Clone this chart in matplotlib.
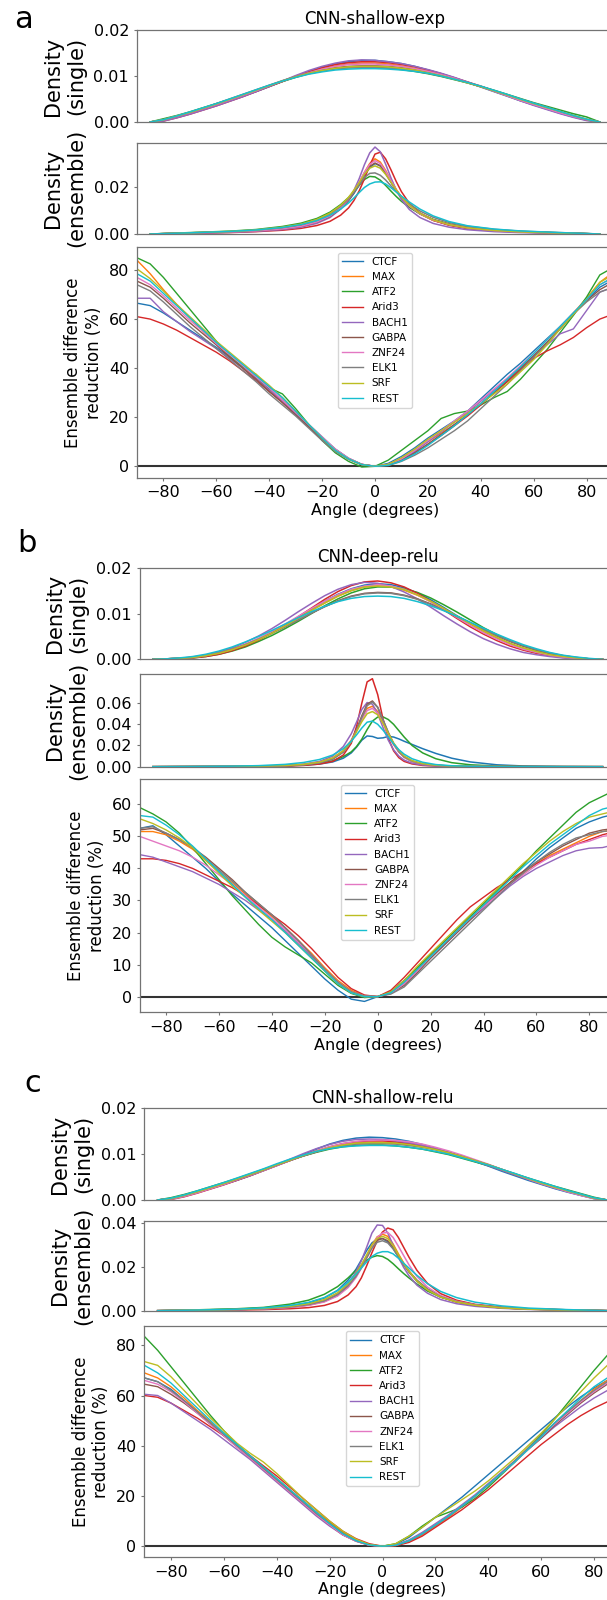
import matplotlib
matplotlib.use("Agg")
import matplotlib.pyplot as plt
from matplotlib.ticker import FormatStrFormatter

# ---------------- data ----------------
TFS = ["CTCF", "MAX", "ATF2", "Arid3", "BACH1", "GABPA", "ZNF24", "ELK1", "SRF", "REST"]

ANGLES_RED = list(range(-90, 91, 5))          # 37 points
ANGLES_SINGLE = list(range(-85, 86, 5))       # 35 points
ANGLES_ENS = [-85, -70, -55, -45, -35, -28, -22, -17, -13, -10, -8, -6, -4, -2, 0,
              2, 4, 6, 8, 10, 13, 17, 22, 28, 35, 45, 55, 70, 85]  # 29 points

# ---- a: CNN-shallow-exp ----
shallow_exp_single = {
    "CTCF":  [0, .0003, .0011, .0019, .0028, .0037, .0046, .0056, .0066, .0077, .0088, .0099, .0110, .0119, .0126, .0131, .0134, .0134, .0131, .0127, .0121, .0113, .0105, .0096, .0086, .0076, .0066, .0056, .0046, .0037, .0028, .0019, .0011, .0004, 0],
    "MAX":   [0, .0004, .0012, .0020, .0029, .0038, .0048, .0058, .0068, .0079, .0089, .0099, .0108, .0116, .0122, .0126, .0128, .0128, .0126, .0122, .0117, .0111, .0104, .0095, .0086, .0077, .0067, .0057, .0047, .0038, .0029, .0020, .0012, .0005, 0],
    "ATF2":  [0, .0007, .0014, .0022, .0031, .0040, .0049, .0058, .0068, .0078, .0088, .0097, .0105, .0111, .0116, .0118, .0119, .0119, .0117, .0114, .0110, .0105, .0099, .0092, .0085, .0077, .0069, .0060, .0051, .0042, .0034, .0026, .0018, .0011, 0],
    "Arid3": [0, .0002, .0009, .0017, .0026, .0035, .0045, .0055, .0066, .0077, .0088, .0099, .0109, .0118, .0125, .0129, .0131, .0131, .0129, .0125, .0120, .0113, .0105, .0096, .0087, .0078, .0068, .0058, .0048, .0039, .0030, .0021, .0013, .0005, 0],
    "BACH1": [0, .0002, .0009, .0017, .0026, .0035, .0045, .0055, .0066, .0077, .0089, .0101, .0112, .0121, .0128, .0133, .0135, .0134, .0131, .0127, .0121, .0114, .0106, .0097, .0087, .0077, .0067, .0057, .0046, .0036, .0027, .0018, .0010, .0003, 0],
    "GABPA": [0, .0004, .0012, .0021, .0030, .0039, .0049, .0059, .0069, .0079, .0089, .0098, .0106, .0113, .0118, .0121, .0122, .0122, .0121, .0118, .0114, .0108, .0101, .0094, .0086, .0077, .0068, .0059, .0049, .0040, .0031, .0022, .0013, .0005, 0],
    "ZNF24": [0, .0004, .0012, .0020, .0029, .0038, .0048, .0058, .0068, .0079, .0089, .0099, .0107, .0115, .0121, .0125, .0126, .0126, .0124, .0121, .0116, .0110, .0103, .0095, .0086, .0077, .0067, .0057, .0047, .0038, .0029, .0020, .0012, .0005, 0],
    "ELK1":  [0, .0005, .0013, .0021, .0030, .0040, .0050, .0060, .0070, .0080, .0090, .0099, .0106, .0112, .0116, .0118, .0118, .0118, .0117, .0115, .0111, .0106, .0100, .0093, .0085, .0077, .0068, .0059, .0050, .0041, .0032, .0023, .0014, .0006, 0],
    "SRF":   [0, .0005, .0013, .0021, .0030, .0039, .0049, .0059, .0069, .0079, .0089, .0098, .0106, .0112, .0117, .0120, .0121, .0121, .0120, .0117, .0113, .0107, .0101, .0093, .0085, .0077, .0068, .0059, .0049, .0040, .0031, .0023, .0014, .0006, 0],
    "REST":  [0, .0005, .0013, .0022, .0031, .0040, .0050, .0060, .0070, .0080, .0089, .0097, .0104, .0109, .0113, .0115, .0116, .0116, .0115, .0113, .0110, .0106, .0100, .0093, .0086, .0078, .0069, .0060, .0050, .0041, .0032, .0023, .0014, .0006, 0],
}
shallow_exp_ens = {
    "CTCF":  [0, .0004, .0009, .0014, .0024, .0035, .0052, .0076, .0108, .0142, .0172, .0208, .0249, .0283, .0300, .0290, .0260, .0222, .0186, .0155, .0118, .0086, .0059, .0040, .0026, .0015, .0009, .0004, 0],
    "MAX":   [0, .0004, .0009, .0014, .0024, .0035, .0053, .0078, .0111, .0147, .0180, .0218, .0262, .0300, .0320, .0306, .0271, .0229, .0190, .0157, .0118, .0085, .0058, .0039, .0025, .0015, .0009, .0004, 0],
    "ATF2":  [0, .0006, .0012, .0019, .0032, .0046, .0066, .0093, .0125, .0155, .0180, .0207, .0232, .0245, .0243, .0229, .0207, .0183, .0160, .0139, .0113, .0086, .0062, .0043, .0029, .0018, .0011, .0005, 0],
    "Arid3": [0, .0003, .0006, .0010, .0016, .0024, .0036, .0054, .0080, .0111, .0142, .0183, .0235, .0292, .0340, .0348, .0320, .0274, .0224, .0180, .0130, .0089, .0058, .0037, .0023, .0013, .0008, .0003, 0],
    "BACH1": [0, .0003, .0007, .0011, .0019, .0029, .0045, .0070, .0106, .0146, .0185, .0235, .0295, .0345, .0370, .0350, .0298, .0240, .0188, .0147, .0104, .0070, .0045, .0029, .0018, .0010, .0006, .0003, 0],
    "GABPA": [0, .0004, .0008, .0013, .0022, .0033, .0050, .0075, .0108, .0144, .0176, .0213, .0255, .0288, .0302, .0290, .0259, .0221, .0186, .0156, .0120, .0088, .0061, .0041, .0027, .0016, .0010, .0004, 0],
    "ZNF24": [0, .0004, .0008, .0013, .0022, .0033, .0051, .0077, .0111, .0148, .0181, .0219, .0262, .0296, .0312, .0300, .0267, .0227, .0189, .0157, .0119, .0086, .0059, .0040, .0026, .0015, .0009, .0004, 0],
    "ELK1":  [0, .0005, .0010, .0016, .0027, .0040, .0059, .0085, .0118, .0150, .0178, .0208, .0240, .0258, .0260, .0250, .0230, .0205, .0180, .0157, .0128, .0098, .0071, .0049, .0033, .0020, .0012, .0006, 0],
    "SRF":   [0, .0005, .0011, .0017, .0029, .0042, .0062, .0089, .0122, .0156, .0186, .0218, .0254, .0280, .0290, .0280, .0254, .0221, .0188, .0158, .0122, .0088, .0060, .0040, .0026, .0015, .0009, .0004, 0],
    "REST":  [0, .0005, .0011, .0017, .0028, .0040, .0057, .0080, .0106, .0132, .0153, .0176, .0198, .0213, .0221, .0222, .0213, .0197, .0179, .0161, .0136, .0106, .0077, .0053, .0035, .0021, .0013, .0006, 0],
}
shallow_exp_red = {
    "CTCF":  [66.5, 65.5, 62.5, 59, 55.5, 52, 48.5, 44.5, 40.5, 36, 31.5, 27, 22, 17, 12, 7, 3.3, 0.8, 0, 1.2, 4, 7.5, 11.5, 15, 18.5, 22.5, 27.5, 32.5, 37.5, 42, 47, 52, 57, 62.5, 67.5, 73, 76],
    "MAX":   [84, 78.5, 72, 66, 60.5, 55, 50, 45, 40.5, 35.5, 31, 26.5, 21.5, 16, 11, 6.5, 3, 0.7, 0, 0.7, 3, 6.5, 10, 13.5, 17, 21, 25.5, 30, 34.5, 39.5, 45, 50.5, 56.5, 62.5, 68.5, 75, 79],
    "ATF2":  [85, 82.5, 77, 70.5, 64, 57.5, 51, 45, 40.5, 37.5, 32, 29.5, 23.5, 17, 10.5, 5.5, 2, -0.3, 0, 2.5, 6.5, 10.5, 14.5, 19.5, 21.5, 22.5, 25, 28, 30.5, 35.5, 41.5, 47.5, 54.5, 61.5, 69, 78, 81],
    "Arid3": [61, 60, 58, 55.5, 52.5, 49.5, 46.5, 43, 39, 35, 30.5, 26, 21, 16, 11, 6.5, 3, 0.8, 0, 0.5, 2.5, 5.5, 9, 12.5, 16.5, 20.5, 25, 30, 34.5, 39.5, 44, 47, 49.5, 52.5, 56.5, 60, 62],
    "BACH1": [68.5, 68.5, 63, 59, 55, 51.5, 48, 44, 40, 35.5, 31, 26.5, 21.5, 16.5, 11.5, 7, 3.2, 0.8, 0, 0.6, 3, 6, 10, 14, 18, 22, 26.5, 31, 35.5, 40.5, 45, 49.5, 54, 56, 63.5, 71, 73],
    "GABPA": [75.5, 73, 68.5, 63.5, 58.5, 54, 49.5, 44.5, 40, 35.5, 30.5, 26, 21, 16, 11, 6.5, 3, 0.7, 0, 0.5, 2.5, 5.5, 9, 13, 17, 21, 25.5, 30, 35, 40, 45, 50.5, 56, 62, 67.5, 72, 75],
    "ZNF24": [77, 74, 69.5, 64.5, 59.5, 55, 50, 45.5, 41, 36.5, 32, 27, 22, 17, 12, 7, 3.3, 0.8, 0, 0.8, 3, 6.5, 10.5, 14.5, 18.5, 22.5, 27, 31.5, 36, 41, 46, 51.5, 57, 62.5, 68, 74, 77],
    "ELK1":  [74, 71.5, 67, 62, 57, 52.5, 48, 43.5, 39, 34.5, 29.5, 25, 20.5, 15.5, 10.5, 6, 2.8, 0.6, 0, 0.3, 2, 4.5, 7.5, 11, 14.5, 18.5, 23.5, 28.5, 33.5, 39, 44.5, 50, 56, 62, 67, 71, 73],
    "SRF":   [80.5, 76.5, 71.5, 66, 61, 56, 51, 46.5, 42, 37.5, 33, 28, 22.5, 17, 11.5, 6.5, 3, 0.7, 0, 0.8, 3.5, 7, 11, 14.5, 18, 21.5, 25.5, 29.5, 33.5, 38.5, 43.5, 49.5, 56, 62, 68, 75, 78],
    "REST":  [78.5, 75.5, 70.5, 65.5, 60.5, 55.5, 50.5, 46, 41.5, 37, 32.5, 28, 22.5, 17, 11.5, 6.5, 3, 0.7, 0, 0.4, 2.2, 5, 8.5, 12.5, 16.5, 21, 25.5, 30.5, 35.5, 40.5, 46, 51.5, 57, 62.5, 68, 74, 77],
}

# ---- b: CNN-deep-relu ----
deep_relu_single = {
    "CTCF":  [0, .0001, .0002, .0004, .0008, .0014, .0022, .0032, .0045, .0059, .0075, .0092, .0110, .0127, .0142, .0154, .0162, .0165, .0163, .0156, .0145, .0130, .0113, .0095, .0078, .0062, .0047, .0034, .0024, .0016, .0010, .0005, .0002, .0001, 0],
    "MAX":   [0, .0001, .0002, .0004, .0008, .0014, .0022, .0032, .0044, .0058, .0074, .0090, .0107, .0123, .0138, .0150, .0158, .0160, .0158, .0151, .0140, .0126, .0110, .0093, .0077, .0061, .0047, .0034, .0024, .0016, .0010, .0005, .0002, .0001, 0],
    "ATF2":  [0, .0001, .0002, .0003, .0006, .0011, .0018, .0027, .0039, .0052, .0067, .0083, .0100, .0117, .0132, .0145, .0154, .0158, .0158, .0154, .0146, .0134, .0119, .0103, .0086, .0069, .0054, .0040, .0029, .0020, .0013, .0007, .0003, .0001, 0],
    "Arid3": [0, .0001, .0001, .0003, .0006, .0011, .0019, .0029, .0042, .0057, .0074, .0093, .0112, .0131, .0148, .0161, .0169, .0171, .0167, .0158, .0144, .0127, .0108, .0089, .0071, .0055, .0041, .0029, .0020, .0013, .0008, .0004, .0002, .0001, 0],
    "BACH1": [0, .0001, .0002, .0005, .0009, .0016, .0025, .0037, .0051, .0067, .0085, .0104, .0122, .0139, .0153, .0163, .0168, .0166, .0159, .0147, .0132, .0114, .0095, .0077, .0060, .0045, .0033, .0023, .0015, .0010, .0006, .0003, .0001, 0, 0],
    "GABPA": [0, .0001, .0002, .0004, .0008, .0014, .0022, .0032, .0044, .0057, .0071, .0086, .0101, .0115, .0128, .0138, .0144, .0146, .0145, .0140, .0132, .0121, .0108, .0094, .0079, .0065, .0051, .0039, .0029, .0020, .0013, .0008, .0004, .0001, 0],
    "ZNF24": [0, .0001, .0002, .0004, .0008, .0014, .0022, .0033, .0046, .0061, .0077, .0094, .0111, .0127, .0141, .0153, .0160, .0163, .0160, .0153, .0141, .0126, .0109, .0091, .0074, .0058, .0044, .0032, .0022, .0015, .0009, .0005, .0002, .0001, 0],
    "ELK1":  [0, .0001, .0002, .0004, .0008, .0014, .0022, .0032, .0044, .0057, .0071, .0086, .0101, .0115, .0127, .0137, .0143, .0145, .0144, .0139, .0131, .0120, .0107, .0093, .0079, .0065, .0052, .0040, .0030, .0021, .0014, .0008, .0004, .0001, 0],
    "SRF":   [0, .0001, .0002, .0004, .0008, .0013, .0021, .0031, .0043, .0057, .0073, .0090, .0107, .0123, .0138, .0150, .0158, .0160, .0158, .0152, .0141, .0127, .0111, .0094, .0078, .0062, .0048, .0035, .0025, .0017, .0010, .0006, .0003, .0001, 0],
    "REST":  [0, .0001, .0003, .0006, .0011, .0018, .0027, .0038, .0050, .0063, .0077, .0091, .0104, .0116, .0126, .0133, .0137, .0138, .0137, .0133, .0126, .0117, .0106, .0094, .0081, .0068, .0055, .0043, .0032, .0023, .0015, .0009, .0005, .0002, 0],
}
deep_relu_ens = {
    "CTCF":  [0, .0001, .0002, .0004, .0008, .0014, .0025, .0045, .0080, .0130, .0185, .0250, .0290, .0285, .0268, .0272, .0285, .0280, .0262, .0240, .0210, .0170, .0125, .0080, .0045, .0018, .0007, .0002, 0],
    "MAX":   [0, .0001, .0002, .0004, .0010, .0020, .0040, .0080, .0150, .0250, .0350, .0460, .0550, .0570, .0520, .0420, .0310, .0210, .0140, .0090, .0050, .0025, .0012, .0006, .0003, .0001, 0, 0, 0],
    "ATF2":  [0, .0001, .0002, .0004, .0009, .0017, .0030, .0055, .0095, .0140, .0190, .0260, .0350, .0430, .0468, .0470, .0445, .0400, .0340, .0280, .0200, .0130, .0075, .0038, .0018, .0006, .0002, .0001, 0],
    "Arid3": [0, .0001, .0002, .0003, .0006, .0012, .0025, .0050, .0110, .0220, .0380, .0600, .0800, .0830, .0680, .0450, .0270, .0150, .0085, .0050, .0026, .0012, .0006, .0003, .0001, 0, 0, 0, 0],
    "BACH1": [0, .0001, .0002, .0005, .0012, .0025, .0050, .0100, .0190, .0310, .0420, .0540, .0605, .0590, .0500, .0370, .0250, .0160, .0100, .0062, .0033, .0016, .0007, .0003, .0001, 0, 0, 0, 0],
    "GABPA": [0, .0001, .0002, .0004, .0009, .0018, .0036, .0072, .0140, .0240, .0350, .0480, .0590, .0620, .0560, .0440, .0320, .0215, .0140, .0090, .0050, .0025, .0012, .0006, .0003, .0001, 0, 0, 0],
    "ZNF24": [0, .0001, .0002, .0004, .0010, .0020, .0040, .0080, .0150, .0245, .0340, .0445, .0530, .0550, .0505, .0410, .0305, .0210, .0140, .0090, .0050, .0025, .0012, .0006, .0003, .0001, 0, 0, 0],
    "ELK1":  [0, .0001, .0002, .0004, .0009, .0018, .0036, .0072, .0138, .0235, .0340, .0465, .0575, .0610, .0560, .0445, .0325, .0220, .0145, .0094, .0053, .0027, .0013, .0006, .0003, .0001, 0, 0, 0],
    "SRF":   [0, .0001, .0002, .0005, .0011, .0022, .0043, .0083, .0150, .0240, .0330, .0425, .0500, .0520, .0490, .0410, .0315, .0225, .0155, .0102, .0058, .0029, .0014, .0007, .0003, .0001, 0, 0, 0],
    "REST":  [0, .0002, .0005, .0010, .0022, .0040, .0068, .0110, .0170, .0240, .0300, .0365, .0420, .0430, .0400, .0345, .0280, .0215, .0160, .0118, .0075, .0042, .0020, .0009, .0004, .0001, 0, 0, 0],
}
deep_relu_red = {
    "CTCF":  [52.5, 53.3, 50.5, 47, 43.5, 40, 36, 32, 28.5, 25, 21.5, 17.5, 13.5, 9.5, 5.5, 2, -0.8, -1.5, 0, 1.5, 5, 9, 13, 17, 21, 25, 28.5, 32, 35.5, 39, 43, 46.5, 49.5, 52.5, 54.5, 56, 57],
    "MAX":   [51.5, 51.5, 50.5, 48.5, 46, 42.5, 39, 35.5, 32, 28.5, 25, 21.5, 17.5, 13.5, 9, 5, 2, 0.2, 0, 1.2, 4.5, 8.5, 13, 17, 21, 25, 28.5, 32, 35.5, 38.5, 41.5, 44, 46, 48, 50, 51.5, 52],
    "ATF2":  [59, 57, 54.5, 51, 46.5, 41.5, 36.5, 31.5, 27, 22.5, 18.5, 15.5, 13, 10.5, 7, 3.5, 1, -0.3, 0, 1.5, 5, 9, 13, 17, 21, 25, 29, 33, 37, 41, 45.5, 49.5, 53.5, 57.5, 60.5, 62.5, 64.5],
    "Arid3": [43, 43, 42.5, 41.5, 40, 38, 36, 34, 31.5, 28.5, 25.5, 22.5, 19, 15, 10.5, 6, 2.5, 0.5, 0, 2, 6, 10.5, 15, 19.5, 24, 28, 31, 34, 36.5, 39, 41.5, 43.5, 45.5, 47.5, 49, 50.5, 51.5],
    "BACH1": [44.3, 43.5, 42, 40.5, 39, 37, 35, 32.5, 30, 27, 24, 20.5, 16.5, 12.5, 8, 4, 1.2, 0, 0, 1, 4, 8, 12, 16, 20, 24, 27.5, 31, 34.5, 37.5, 40, 42, 44, 45.5, 46.3, 46.5, 47.5],
    "GABPA": [52, 52.5, 51, 49, 46.5, 43.5, 40, 36.5, 32.5, 29, 25.5, 21.5, 17.5, 13, 8.5, 4.5, 1.5, 0.2, 0, 1, 3.5, 7.5, 12, 16, 20, 24, 28, 32, 35.5, 39, 42, 44.5, 47, 49, 51, 52, 52.5],
    "ZNF24": [50, 48.5, 47, 45.5, 43.5, 41, 38, 35, 31.5, 28, 24.5, 21, 17, 13, 8.5, 4.5, 1.5, 0.2, 0, 1, 4, 8, 12.5, 16.5, 20.5, 24.5, 28, 31.5, 35, 38, 41, 43.5, 45.5, 47.5, 48.5, 50, 50.5],
    "ELK1":  [52.5, 53, 51, 49, 46.5, 43, 39.5, 36, 32.5, 29, 25.5, 21.5, 17.5, 13, 8.5, 4.5, 1.5, 0.2, 0, 0.8, 3, 7, 11, 15, 19, 23, 27, 31, 35, 38.5, 42, 45, 47.5, 49.5, 50.5, 51.5, 52],
    "SRF":   [55.5, 54, 52, 49.5, 46.5, 42.5, 38.5, 34.5, 31, 27, 23.5, 20, 16, 12, 8, 4, 1.2, 0, 0, 1.5, 5, 9.5, 13.5, 17.5, 21.5, 25.5, 29.5, 33.5, 37.5, 41.5, 45, 48.5, 51.5, 54, 56, 57, 58],
    "REST":  [56.5, 56, 53.5, 50.5, 47, 43, 39, 35, 31, 27.5, 24, 20, 16, 12, 8, 4, 1.2, 0, 0, 1.2, 4.5, 8.5, 12.5, 16.5, 20.5, 24.5, 28.5, 32.5, 36.5, 40.5, 44, 47.5, 50.5, 53.5, 56.5, 58.5, 59.5],
}

# ---- c: CNN-shallow-relu ----
shallow_relu_single = {
    "CTCF":  [0, .0003, .0009, .0017, .0025, .0034, .0043, .0053, .0064, .0075, .0087, .0099, .0111, .0122, .0130, .0135, .0137, .0136, .0133, .0128, .0121, .0113, .0104, .0094, .0084, .0074, .0063, .0053, .0043, .0034, .0025, .0017, .0010, .0003, 0],
    "MAX":   [0, .0003, .0010, .0018, .0027, .0036, .0045, .0055, .0065, .0076, .0087, .0097, .0106, .0114, .0120, .0124, .0126, .0126, .0125, .0122, .0117, .0111, .0104, .0095, .0086, .0076, .0066, .0056, .0046, .0036, .0027, .0019, .0011, .0004, 0],
    "ATF2":  [0, .0005, .0012, .0020, .0029, .0038, .0047, .0057, .0067, .0077, .0087, .0096, .0104, .0111, .0116, .0119, .0120, .0120, .0118, .0115, .0111, .0105, .0099, .0091, .0083, .0075, .0066, .0057, .0048, .0039, .0030, .0022, .0014, .0006, 0],
    "Arid3": [0, .0001, .0007, .0015, .0024, .0033, .0043, .0053, .0064, .0075, .0086, .0097, .0107, .0116, .0123, .0127, .0129, .0129, .0127, .0123, .0118, .0111, .0103, .0095, .0086, .0076, .0066, .0056, .0046, .0037, .0028, .0020, .0012, .0004, 0],
    "BACH1": [0, .0002, .0008, .0016, .0025, .0034, .0044, .0054, .0065, .0077, .0089, .0101, .0112, .0121, .0128, .0132, .0133, .0132, .0129, .0125, .0119, .0112, .0104, .0095, .0085, .0075, .0065, .0055, .0045, .0035, .0026, .0018, .0010, .0003, 0],
    "GABPA": [0, .0003, .0010, .0018, .0027, .0036, .0045, .0055, .0065, .0076, .0086, .0096, .0105, .0113, .0119, .0123, .0124, .0124, .0123, .0120, .0116, .0110, .0103, .0095, .0086, .0077, .0067, .0057, .0047, .0037, .0028, .0020, .0012, .0004, 0],
    "ZNF24": [0, .0002, .0008, .0016, .0025, .0034, .0044, .0054, .0064, .0075, .0086, .0097, .0107, .0116, .0123, .0128, .0130, .0131, .0130, .0127, .0122, .0115, .0107, .0098, .0088, .0078, .0067, .0057, .0046, .0036, .0027, .0018, .0010, .0003, 0],
    "ELK1":  [0, .0003, .0010, .0018, .0027, .0036, .0045, .0055, .0065, .0076, .0086, .0096, .0105, .0113, .0118, .0122, .0123, .0123, .0122, .0119, .0115, .0110, .0103, .0095, .0086, .0077, .0067, .0057, .0047, .0038, .0029, .0020, .0012, .0004, 0],
    "SRF":   [0, .0003, .0010, .0018, .0027, .0036, .0046, .0056, .0066, .0077, .0087, .0097, .0106, .0114, .0120, .0124, .0125, .0125, .0124, .0121, .0116, .0110, .0103, .0095, .0086, .0077, .0067, .0057, .0047, .0037, .0028, .0020, .0012, .0004, 0],
    "REST":  [0, .0004, .0011, .0020, .0029, .0038, .0048, .0058, .0068, .0079, .0089, .0098, .0106, .0112, .0116, .0118, .0119, .0119, .0118, .0115, .0111, .0106, .0100, .0092, .0084, .0076, .0067, .0058, .0048, .0039, .0030, .0021, .0013, .0005, 0],
}
shallow_relu_ens = {
    "CTCF":  [0, .0003, .0007, .0012, .0022, .0036, .0058, .0093, .0140, .0190, .0232, .0275, .0310, .0328, .0330, .0315, .0285, .0248, .0212, .0180, .0140, .0100, .0066, .0042, .0026, .0014, .0008, .0003, 0],
    "MAX":   [0, .0002, .0005, .0009, .0016, .0026, .0042, .0070, .0110, .0158, .0200, .0250, .0300, .0338, .0350, .0340, .0305, .0260, .0218, .0182, .0138, .0097, .0063, .0040, .0025, .0013, .0007, .0003, 0],
    "ATF2":  [0, .0004, .0009, .0015, .0030, .0048, .0075, .0110, .0150, .0185, .0208, .0230, .0245, .0252, .0248, .0235, .0215, .0192, .0170, .0150, .0122, .0090, .0062, .0042, .0027, .0015, .0009, .0004, 0],
    "Arid3": [0, .0001, .0003, .0005, .0009, .0014, .0024, .0042, .0072, .0110, .0150, .0205, .0265, .0320, .0360, .0378, .0370, .0335, .0290, .0245, .0185, .0125, .0078, .0048, .0029, .0016, .0009, .0004, 0],
    "BACH1": [0, .0002, .0005, .0009, .0016, .0027, .0045, .0076, .0122, .0178, .0228, .0290, .0355, .0392, .0390, .0355, .0300, .0245, .0198, .0160, .0117, .0080, .0051, .0032, .0020, .0011, .0006, .0003, 0],
    "GABPA": [0, .0002, .0005, .0009, .0016, .0026, .0043, .0072, .0112, .0158, .0198, .0245, .0292, .0322, .0330, .0320, .0290, .0250, .0212, .0178, .0136, .0096, .0063, .0040, .0025, .0013, .0007, .0003, 0],
    "ZNF24": [0, .0002, .0005, .0008, .0015, .0024, .0040, .0067, .0106, .0152, .0194, .0243, .0295, .0335, .0355, .0358, .0335, .0295, .0252, .0210, .0157, .0108, .0069, .0043, .0027, .0014, .0008, .0003, 0],
    "ELK1":  [0, .0002, .0005, .0009, .0017, .0028, .0045, .0074, .0114, .0158, .0197, .0240, .0285, .0313, .0320, .0310, .0283, .0246, .0210, .0177, .0136, .0097, .0064, .0041, .0026, .0014, .0008, .0003, 0],
    "SRF":   [0, .0003, .0006, .0011, .0020, .0032, .0051, .0082, .0124, .0170, .0210, .0255, .0300, .0330, .0340, .0330, .0298, .0256, .0216, .0180, .0136, .0095, .0062, .0040, .0025, .0013, .0007, .0003, 0],
    "REST":  [0, .0003, .0007, .0013, .0024, .0038, .0060, .0092, .0130, .0168, .0195, .0223, .0248, .0263, .0270, .0270, .0260, .0240, .0217, .0195, .0162, .0124, .0088, .0060, .0039, .0022, .0012, .0005, 0],
}
shallow_relu_red = {
    "CTCF":  [67, 65.5, 62.5, 58, 53.5, 49, 44.5, 40, 35.5, 31, 26.5, 22, 18, 13.5, 9.5, 5.5, 2.5, 0.5, 0, 0.8, 3.5, 7.5, 11.5, 15.5, 19.5, 24, 28.5, 33, 37.5, 42, 46.5, 51, 55.5, 59.5, 63, 66, 67],
    "MAX":   [69, 67, 63.5, 59, 54, 49.5, 45, 40.5, 36, 31.5, 27, 22.5, 18, 13.5, 9.5, 5.5, 2.5, 0.5, 0, 0.3, 1.8, 4.5, 8, 11.5, 15.5, 20, 24.5, 29, 34, 39, 44, 49, 53.5, 58, 62.5, 66, 67.5],
    "ATF2":  [83.5, 78, 71.5, 65, 58.5, 52, 46, 40.5, 35.5, 31, 26.5, 22, 17.5, 13, 9, 5, 2.2, 0.5, 0, 1, 4, 8, 11.5, 13.5, 15.5, 19, 23.5, 28.5, 33.5, 39, 44.5, 50.5, 57, 63.5, 70, 76, 79],
    "Arid3": [60, 59.3, 57, 54, 51, 47.5, 44, 40, 36, 32, 28, 23.5, 19, 14.5, 10, 6, 3, 1, 0, 0.2, 1.5, 4, 7.5, 11, 14.5, 18.5, 22.5, 27, 31.5, 36, 40.5, 44.5, 48.5, 52, 55, 57.5, 59],
    "BACH1": [60.5, 60, 57, 53.5, 50, 46.5, 42.5, 38.5, 34.5, 30, 25.5, 21, 16.5, 12, 8, 4.5, 2, 0.4, 0, 0.5, 2.5, 5.5, 9, 12.5, 16.5, 20.5, 25, 29.5, 34, 38.5, 43, 47.5, 51.5, 55.5, 59, 62, 64],
    "GABPA": [64.5, 63.5, 60.5, 57, 53, 48.5, 44, 39.5, 35, 30.5, 26, 21.5, 17, 12.5, 8.5, 4.5, 2, 0.4, 0, 0.4, 2.2, 5, 8.5, 12, 16, 20, 24.5, 29, 33.5, 38.5, 43, 48, 52.5, 57, 61, 64.5, 66],
    "ZNF24": [66, 64.5, 61.5, 57.5, 53, 48.5, 44, 39.5, 35, 30.5, 26, 21.5, 17, 12.5, 8.5, 4.5, 2, 0.4, 0, 0.4, 2.2, 5, 8.5, 12, 16, 20, 24.5, 29, 33.5, 38.5, 43.5, 48.5, 53, 57.5, 61.5, 65, 66.5],
    "ELK1":  [67, 65.5, 62, 58, 53.5, 49, 44.5, 40, 35.5, 31, 26.5, 22, 17.5, 13, 9, 5, 2.2, 0.5, 0, 0.3, 2, 4.8, 8.2, 11.8, 15.8, 20, 24.5, 29, 34, 39, 44, 49, 53.5, 58, 62, 65.5, 67],
    "SRF":   [73.5, 72, 67.5, 62, 56.5, 51, 46, 41, 37, 33.5, 29, 24, 19, 14.5, 10, 6, 2.8, 0.7, 0, 1, 4, 7.5, 11.5, 15, 18.5, 22, 26, 30.5, 35, 40, 45, 50.5, 56, 61.5, 67, 72, 75],
    "REST":  [72, 69, 65, 60, 55, 50, 45, 40.5, 36, 31.5, 27, 22.5, 18, 13.5, 9, 5, 2.2, 0.5, 0, 0.4, 2.2, 5, 8.5, 12, 16, 20, 24.5, 29, 33.5, 38.5, 43.5, 49, 54, 59, 63.5, 67, 68.5],
}

ENS_TICKS_A = [0.0, 0.02]
ENS_TICKS_B = [0.0, 0.02, 0.04, 0.06]
ENS_TICKS_C = [0.0, 0.02, 0.04]
SINGLE_TICKS = [0.0, 0.01, 0.02]
RED_TICKS_A = [0, 20, 40, 60, 80]
RED_TICKS_B = [0, 10, 20, 30, 40, 50, 60]
RED_TICKS_C = [0, 20, 40, 60, 80]
X_TICKS = [-80, -60, -40, -20, 0, 20, 40, 60, 80]

# ---------------- layout ----------------
W, H = 607, 1600
PX_PER_DEG = 2.645
AX_W = 180 * PX_PER_DEG

fig = plt.figure(figsize=(W / 100, H / 100), dpi=100)

SPINE_C = "0.45"
TICK_FS = 11.5


def rect(left, top, bottom):
    return [left / W, 1 - bottom / H, AX_W / W, (bottom - top) / H]


def style(ax):
    for s in ax.spines.values():
        s.set_color(SPINE_C)
        s.set_linewidth(0.9)
    ax.tick_params(axis="both", colors=SPINE_C, labelcolor="black",
                   labelsize=TICK_FS, length=2.4, width=0.8, pad=3.3)
    ax.set_xlim(-90, 90)


panels = [
    dict(letter="a", lxy=(23, 20), title="CNN-shallow-exp", zero_x=375.0,
         rows=[(30, 122), (142.7, 234), (247.3, 477.5)],
         single=shallow_exp_single, ens=shallow_exp_ens, red=shallow_exp_red,
         ens_ticks=ENS_TICKS_A, red_ticks=RED_TICKS_A),
    dict(letter="b", lxy=(27, 543), title="CNN-deep-relu", zero_x=377.7,
         rows=[(567.7, 659.3), (674.3, 766.7), (779.3, 1012)],
         single=deep_relu_single, ens=deep_relu_ens, red=deep_relu_red,
         ens_ticks=ENS_TICKS_B, red_ticks=RED_TICKS_B),
    dict(letter="c", lxy=(33, 1083), title="CNN-shallow-relu", zero_x=382.5,
         rows=[(1108.3, 1200), (1220.7, 1310.7), (1326, 1556.7)],
         single=shallow_relu_single, ens=shallow_relu_ens, red=shallow_relu_red,
         ens_ticks=ENS_TICKS_C, red_ticks=RED_TICKS_C),
]

for p in panels:
    left = p["zero_x"] - 90 * PX_PER_DEG
    (t1, b1), (t2, b2), (t3, b3) = p["rows"]
    ax1 = fig.add_axes(rect(left, t1, b1))
    ax2 = fig.add_axes(rect(left, t2, b2))
    ax3 = fig.add_axes(rect(left, t3, b3))

    for tf in TFS:
        ax1.plot(ANGLES_SINGLE, p["single"][tf], lw=1.1, label=tf)
        ax2.plot(ANGLES_ENS, p["ens"][tf], lw=1.1, label=tf)
        ax3.plot(ANGLES_RED, p["red"][tf], lw=1.0, label=tf)

    for ax in (ax1, ax2, ax3):
        style(ax)

    # single density
    ax1.set_ylim(0, 0.02)
    ax1.set_yticks(SINGLE_TICKS)
    ax1.yaxis.set_major_formatter(FormatStrFormatter("%.2f"))
    ax1.tick_params(axis="x", bottom=False, labelbottom=False)
    ax1.set_title(p["title"], fontsize=12, pad=4)
    ax1.set_ylabel("Density\n(single)", fontsize=15)
    ax1.yaxis.set_label_coords(-51 / AX_W, 0.5)

    # ensemble density
    ax2.set_ylim(bottom=0)
    ax2.set_yticks(p["ens_ticks"])
    ax2.yaxis.set_major_formatter(FormatStrFormatter("%.2f"))
    ax2.tick_params(axis="x", bottom=False, labelbottom=False)
    ax2.set_ylabel("Density\n(ensemble)", fontsize=15)
    ax2.yaxis.set_label_coords(-51 / AX_W, 0.5)

    # ensemble difference reduction
    ax3.axhline(0, color="0.2", lw=1.5, zorder=1)
    ax3.set_yticks(p["red_ticks"])
    ax3.set_xticks(X_TICKS)
    ax3.set_xlabel("Angle (degrees)", fontsize=11.5, labelpad=2)
    ax3.set_ylabel("Ensemble difference\nreduction (%)", fontsize=12)
    ax3.yaxis.set_label_coords(-34 / AX_W, 0.5)
    ax3.legend(loc="upper center", fontsize=7.5, borderaxespad=0.5)

    fig.text(p["lxy"][0] / W, 1 - p["lxy"][1] / H, p["letter"], fontsize=22,
             ha="center", va="center")

fig.savefig("out.png", dpi=100)
